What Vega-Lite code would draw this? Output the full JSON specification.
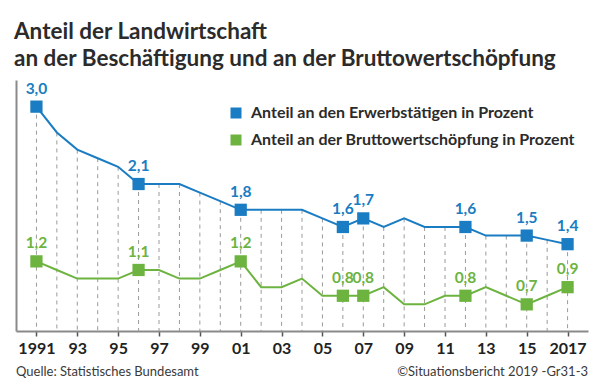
{
  "$schema": "https://vega.github.io/schema/vega-lite/v6.json",
  "width": 572,
  "height": 251,
  "autosize": {"type": "none"},
  "padding": {"left": 16, "top": 80, "right": 12, "bottom": 51},
  "background": "#ffffff",
  "config": {
    "locale": {"number": {"decimal": ",", "thousands": ".", "grouping": [3], "currency": ["", " €"]}},
    "font": "Lato",
    "view": {"stroke": null}
  },
  "title": {
    "text": ["Anteil der Landwirtschaft", "an der Beschäftigung und an der Bruttowertschöpfung"],
    "anchor": "start",
    "frame": "group",
    "dx": -2,
    "offset": 10,
    "font": "Lato",
    "fontSize": 22.5,
    "fontWeight": "bold",
    "lineHeight": 27,
    "color": "#2b2b2b"
  },
  "data": {
    "values": [
      {"jahr": 1991, "reihe": "Anteil an den Erwerbstätigen in Prozent", "wert": 3.0},
      {"jahr": 1992, "reihe": "Anteil an den Erwerbstätigen in Prozent", "wert": 2.7},
      {"jahr": 1993, "reihe": "Anteil an den Erwerbstätigen in Prozent", "wert": 2.5},
      {"jahr": 1994, "reihe": "Anteil an den Erwerbstätigen in Prozent", "wert": 2.4},
      {"jahr": 1995, "reihe": "Anteil an den Erwerbstätigen in Prozent", "wert": 2.3},
      {"jahr": 1996, "reihe": "Anteil an den Erwerbstätigen in Prozent", "wert": 2.1},
      {"jahr": 1997, "reihe": "Anteil an den Erwerbstätigen in Prozent", "wert": 2.1},
      {"jahr": 1998, "reihe": "Anteil an den Erwerbstätigen in Prozent", "wert": 2.1},
      {"jahr": 1999, "reihe": "Anteil an den Erwerbstätigen in Prozent", "wert": 2.0},
      {"jahr": 2000, "reihe": "Anteil an den Erwerbstätigen in Prozent", "wert": 1.9},
      {"jahr": 2001, "reihe": "Anteil an den Erwerbstätigen in Prozent", "wert": 1.8},
      {"jahr": 2002, "reihe": "Anteil an den Erwerbstätigen in Prozent", "wert": 1.8},
      {"jahr": 2003, "reihe": "Anteil an den Erwerbstätigen in Prozent", "wert": 1.8},
      {"jahr": 2004, "reihe": "Anteil an den Erwerbstätigen in Prozent", "wert": 1.8},
      {"jahr": 2005, "reihe": "Anteil an den Erwerbstätigen in Prozent", "wert": 1.7},
      {"jahr": 2006, "reihe": "Anteil an den Erwerbstätigen in Prozent", "wert": 1.6},
      {"jahr": 2007, "reihe": "Anteil an den Erwerbstätigen in Prozent", "wert": 1.7},
      {"jahr": 2008, "reihe": "Anteil an den Erwerbstätigen in Prozent", "wert": 1.6},
      {"jahr": 2009, "reihe": "Anteil an den Erwerbstätigen in Prozent", "wert": 1.7},
      {"jahr": 2010, "reihe": "Anteil an den Erwerbstätigen in Prozent", "wert": 1.6},
      {"jahr": 2011, "reihe": "Anteil an den Erwerbstätigen in Prozent", "wert": 1.6},
      {"jahr": 2012, "reihe": "Anteil an den Erwerbstätigen in Prozent", "wert": 1.6},
      {"jahr": 2013, "reihe": "Anteil an den Erwerbstätigen in Prozent", "wert": 1.5},
      {"jahr": 2014, "reihe": "Anteil an den Erwerbstätigen in Prozent", "wert": 1.5},
      {"jahr": 2015, "reihe": "Anteil an den Erwerbstätigen in Prozent", "wert": 1.5},
      {"jahr": 2016, "reihe": "Anteil an den Erwerbstätigen in Prozent", "wert": 1.45},
      {"jahr": 2017, "reihe": "Anteil an den Erwerbstätigen in Prozent", "wert": 1.4},
      {"jahr": 1991, "reihe": "Anteil an der Bruttowertschöpfung in Prozent", "wert": 1.2},
      {"jahr": 1992, "reihe": "Anteil an der Bruttowertschöpfung in Prozent", "wert": 1.1},
      {"jahr": 1993, "reihe": "Anteil an der Bruttowertschöpfung in Prozent", "wert": 1.0},
      {"jahr": 1994, "reihe": "Anteil an der Bruttowertschöpfung in Prozent", "wert": 1.0},
      {"jahr": 1995, "reihe": "Anteil an der Bruttowertschöpfung in Prozent", "wert": 1.0},
      {"jahr": 1996, "reihe": "Anteil an der Bruttowertschöpfung in Prozent", "wert": 1.1},
      {"jahr": 1997, "reihe": "Anteil an der Bruttowertschöpfung in Prozent", "wert": 1.1},
      {"jahr": 1998, "reihe": "Anteil an der Bruttowertschöpfung in Prozent", "wert": 1.0},
      {"jahr": 1999, "reihe": "Anteil an der Bruttowertschöpfung in Prozent", "wert": 1.0},
      {"jahr": 2000, "reihe": "Anteil an der Bruttowertschöpfung in Prozent", "wert": 1.1},
      {"jahr": 2001, "reihe": "Anteil an der Bruttowertschöpfung in Prozent", "wert": 1.2},
      {"jahr": 2002, "reihe": "Anteil an der Bruttowertschöpfung in Prozent", "wert": 0.9},
      {"jahr": 2003, "reihe": "Anteil an der Bruttowertschöpfung in Prozent", "wert": 0.9},
      {"jahr": 2004, "reihe": "Anteil an der Bruttowertschöpfung in Prozent", "wert": 1.0},
      {"jahr": 2005, "reihe": "Anteil an der Bruttowertschöpfung in Prozent", "wert": 0.8},
      {"jahr": 2006, "reihe": "Anteil an der Bruttowertschöpfung in Prozent", "wert": 0.8},
      {"jahr": 2007, "reihe": "Anteil an der Bruttowertschöpfung in Prozent", "wert": 0.8},
      {"jahr": 2008, "reihe": "Anteil an der Bruttowertschöpfung in Prozent", "wert": 0.9},
      {"jahr": 2009, "reihe": "Anteil an der Bruttowertschöpfung in Prozent", "wert": 0.7},
      {"jahr": 2010, "reihe": "Anteil an der Bruttowertschöpfung in Prozent", "wert": 0.7},
      {"jahr": 2011, "reihe": "Anteil an der Bruttowertschöpfung in Prozent", "wert": 0.8},
      {"jahr": 2012, "reihe": "Anteil an der Bruttowertschöpfung in Prozent", "wert": 0.8},
      {"jahr": 2013, "reihe": "Anteil an der Bruttowertschöpfung in Prozent", "wert": 0.9},
      {"jahr": 2014, "reihe": "Anteil an der Bruttowertschöpfung in Prozent", "wert": 0.8},
      {"jahr": 2015, "reihe": "Anteil an der Bruttowertschöpfung in Prozent", "wert": 0.7},
      {"jahr": 2016, "reihe": "Anteil an der Bruttowertschöpfung in Prozent", "wert": 0.8},
      {"jahr": 2017, "reihe": "Anteil an der Bruttowertschöpfung in Prozent", "wert": 0.9}
    ]
  },
  "layer": [
    {
      "transform": [{"filter": "datum.reihe == 'Anteil an den Erwerbstätigen in Prozent'"}],
      "mark": {"type": "rule", "color": "#9a9a9a", "strokeWidth": 1, "strokeDash": [4, 4]},
      "encoding": {
        "x": {
          "field": "jahr",
          "type": "quantitative",
          "scale": {"domain": [1990, 2018], "nice": false, "zero": false},
          "axis": {
            "title": null,
            "values": [1991, 1993, 1995, 1997, 1999, 2001, 2003, 2005, 2007, 2009, 2011, 2013, 2015, 2017],
            "labelExpr": "datum.value == 1991 || datum.value == 2017 ? '' + datum.value : slice('' + datum.value, 2)",
            "grid": false,
            "domainColor": "#8a8a8a",
            "domainWidth": 2,
            "tickColor": "#555555",
            "tickSize": 5,
            "tickWidth": 1.5,
            "labelFont": "Lato",
            "labelFontSize": 16,
            "labelFontWeight": "bold",
            "labelColor": "#222222",
            "labelPadding": 4,
            "labelFlush": false,
            "labelOverlap": false
          }
        },
        "y": {
          "field": "wert",
          "type": "quantitative",
          "scale": {"domain": [0.39, 3.31], "nice": false, "zero": false},
          "axis": {
            "title": null,
            "labels": false,
            "ticks": false,
            "grid": false,
            "domainColor": "#8a8a8a",
            "domainWidth": 2
          }
        },
        "y2": {"datum": 0.39}
      }
    },
    {
      "transform": [{"filter": "datum.reihe == 'Anteil an den Erwerbstätigen in Prozent'"}],
      "mark": {"type": "line", "strokeWidth": 2, "color": "#1a7cc2"},
      "encoding": {
        "x": {"field": "jahr", "type": "quantitative"},
        "y": {"field": "wert", "type": "quantitative"}
      }
    },
    {
      "transform": [{"filter": "datum.reihe == 'Anteil an der Bruttowertschöpfung in Prozent'"}],
      "mark": {"type": "line", "strokeWidth": 2, "color": "#6db33f"},
      "encoding": {
        "x": {"field": "jahr", "type": "quantitative"},
        "y": {"field": "wert", "type": "quantitative"}
      }
    },
    {
      "transform": [{"filter": {"field": "jahr", "oneOf": [1991, 1996, 2001, 2006, 2007, 2012, 2015, 2017]}}],
      "mark": {"type": "square", "size": 150, "opacity": 1},
      "encoding": {
        "x": {"field": "jahr", "type": "quantitative"},
        "y": {"field": "wert", "type": "quantitative"},
        "fill": {
          "field": "reihe",
          "type": "nominal",
          "scale": {
            "domain": ["Anteil an den Erwerbstätigen in Prozent", "Anteil an der Bruttowertschöpfung in Prozent"],
            "range": ["#1a7cc2", "#6db33f"]
          },
          "legend": {
            "title": null,
            "orient": "none",
            "legendX": 212,
            "legendY": 25,
            "padding": 0,
            "symbolType": "square",
            "symbolSize": 121,
            "symbolStrokeWidth": 0,
            "symbolOpacity": 1,
            "labelFont": "Lato",
            "labelFontSize": 16,
            "labelFontWeight": "bold",
            "labelColor": "#2b2b2b",
            "labelOffset": 7,
            "labelLimit": 0,
            "rowPadding": 11
          }
        }
      }
    },
    {
      "transform": [{"filter": {"field": "jahr", "oneOf": [1991, 1996, 2001, 2006, 2007, 2012, 2015, 2017]}}],
      "mark": {"type": "text", "dy": -18, "fontSize": 15.5, "fontWeight": "bold", "font": "Lato"},
      "encoding": {
        "x": {"field": "jahr", "type": "quantitative"},
        "y": {"field": "wert", "type": "quantitative"},
        "text": {"field": "wert", "type": "quantitative", "format": ".1f"},
        "fill": {"field": "reihe", "type": "nominal"}
      }
    },
    {
      "data": {"values": [{"quelle": "Quelle: Statistisches Bundesamt"}]},
      "mark": {"type": "text", "align": "left", "baseline": "alphabetic", "dy": 45, "fontSize": 13, "font": "Lato", "color": "#3a3a3a"},
      "encoding": {
        "x": {"datum": 1990, "type": "quantitative"},
        "y": {"datum": 0.39, "type": "quantitative"},
        "text": {"field": "quelle", "type": "nominal"}
      }
    },
    {
      "data": {"values": [{"quelle": "©Situationsbericht 2019 -Gr31-3"}]},
      "mark": {"type": "text", "align": "right", "baseline": "alphabetic", "dy": 45, "fontSize": 13, "font": "Lato", "color": "#3a3a3a"},
      "encoding": {
        "x": {"datum": 2018, "type": "quantitative"},
        "y": {"datum": 0.39, "type": "quantitative"},
        "text": {"field": "quelle", "type": "nominal"}
      }
    }
  ]
}
